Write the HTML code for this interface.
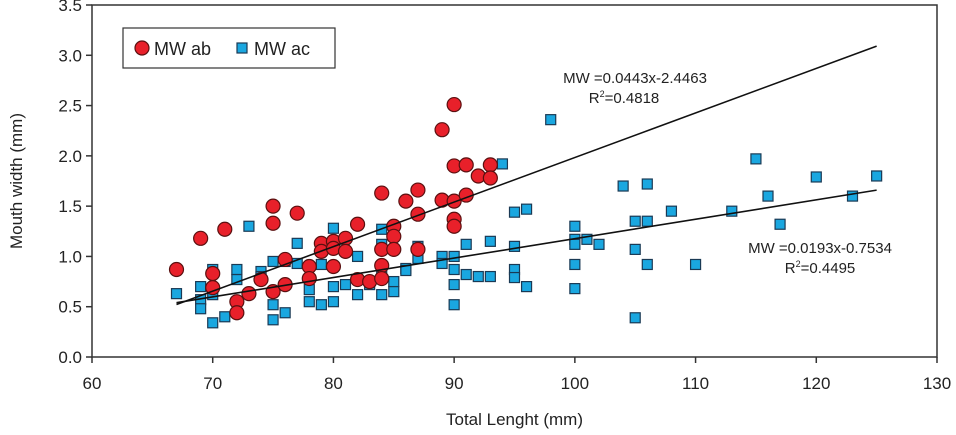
<!DOCTYPE html>
<html><head><meta charset="utf-8"><style>
body{margin:0;background:#fff;}
svg{display:block;font-family:"Liberation Sans",Arial,sans-serif;}
</style></head><body>
<svg id="chart" width="956" height="435"></svg>
<script>
const xTicks=[60,70,80,90,100,110,120,130];
const yTicks=[0.0,0.5,1.0,1.5,2.0,2.5,3.0,3.5];
const abX=[67,69,70,70,71,72,72,73,74,75,75,75,76,76,77,78,78,79,79,80,80,80,81,81,82,82,83,84,84,84,84,85,85,85,86,87,87,87,89,89,90,90,90,90,90,91,91,92,93,93];
const abY=[0.87,1.18,0.83,0.69,1.27,0.55,0.44,0.63,0.77,1.5,1.33,0.65,0.72,0.97,1.43,0.9,0.78,1.13,1.05,1.15,1.08,0.9,1.18,1.05,1.32,0.77,0.75,1.63,1.07,0.91,0.78,1.3,1.2,1.07,1.55,1.66,1.42,1.07,2.26,1.56,2.51,1.9,1.55,1.37,1.3,1.91,1.61,1.8,1.91,1.78];
const acX=[67,69,69,69,70,70,70,71,72,72,73,74,74,75,75,75,76,76,77,77,78,78,79,79,80,80,80,81,82,82,83,84,84,84,84,85,85,86,86,87,87,89,89,90,90,90,90,91,91,92,93,93,94,95,95,95,95,96,96,98,100,100,100,100,100,101,102,104,105,105,105,106,106,106,108,110,113,115,116,117,120,123,125];
const acY=[0.63,0.7,0.57,0.48,0.87,0.62,0.34,0.4,0.87,0.77,1.3,0.85,0.8,0.95,0.52,0.37,0.95,0.44,1.13,0.93,0.67,0.55,0.92,0.52,1.28,0.7,0.55,0.72,1.0,0.62,0.72,1.27,1.12,0.87,0.62,0.75,0.65,0.88,0.86,1.1,0.98,1.0,0.93,1.0,0.87,0.72,0.52,1.12,0.82,0.8,1.15,0.8,1.92,1.44,1.1,0.87,0.79,1.47,0.7,2.36,1.3,1.17,1.12,0.92,0.68,1.17,1.12,1.7,1.35,1.07,0.39,1.72,1.35,0.92,1.45,0.92,1.45,1.97,1.6,1.32,1.79,1.6,1.8];
const fitAb=[0.0443,-2.4463];
const fitAc=[0.0193,-0.7534];
const fitRange=[67,125];

const NS="http://www.w3.org/2000/svg";
const svg=document.getElementById('chart');
const L=92,R=937,T=5,B=357;
const sx=v=>L+(v-60)/(130-60)*(R-L);
const sy=v=>B-(v-0)/(3.5-0)*(B-T);
function mk(tag,a,txt){const e=document.createElementNS(NS,tag);for(const k in a)e.setAttribute(k,a[k]);if(txt!==undefined)e.textContent=txt;svg.appendChild(e);return e;}

let fr=mk('rect',{x:L,y:T,width:R-L,height:B-T,fill:'none',stroke:'#333','stroke-width':1.5});


xTicks.forEach(v=>{
 let t=mk('line',{x1:sx(v),x2:sx(v),y1:B,y2:B+6,stroke:'#333','stroke-width':1.5});
 
 
 let l=mk('text',{x:sx(v),y:B+32,'text-anchor':'middle','font-size':17,fill:'#222'},String(v));
 
 
});
yTicks.forEach(v=>{
 let t=mk('line',{x1:L-6,x2:L,y1:sy(v),y2:sy(v),stroke:'#333','stroke-width':1.5});
 
 
 let l=mk('text',{x:L-10,y:sy(v)+6,'text-anchor':'end','font-size':17,fill:'#222'},v.toFixed(1));
 
 
});
let xt=mk('text',{x:(L+R)/2,y:425,'text-anchor':'middle','font-size':17,fill:'#222'},'Total Lenght (mm)');


let yt=mk('text',{x:0,y:0,'text-anchor':'middle','font-size':17,fill:'#222',transform:`translate(22,${(T+B)/2}) rotate(-90)`},'Mouth width (mm)');



acX.forEach((x,i)=>{
 let s=mk('rect',{x:sx(x)-5,y:sy(acY[i])-5,width:10,height:10,fill:'#1aa7e0',stroke:'#1a3a55','stroke-width':1.2});
 
 
});
abX.forEach((x,i)=>{
 let c=mk('circle',{cx:sx(x),cy:sy(abY[i]),r:7,fill:'#e8202a',stroke:'#5a1010','stroke-width':1.2});
 
 
});
[[fitAb,'trendline-mw-ab'],[fitAc,'trendline-mw-ac']].forEach(([f,n])=>{
 let l=mk('line',{x1:sx(fitRange[0]),y1:sy(f[0]*fitRange[0]+f[1]),x2:sx(fitRange[1]),y2:sy(f[0]*fitRange[1]+f[1]),stroke:'#111','stroke-width':1.6});
 
 
});
let e1=mk('text',{x:635,y:83,'text-anchor':'middle','font-size':15,fill:'#222'},'MW =0.0443x-2.4463');


let r1=mk('text',{x:624,y:103,'text-anchor':'middle','font-size':15,fill:'#222'});
r1.innerHTML='R<tspan dy="-6" font-size="9">2</tspan><tspan dy="6">=0.4818</tspan>';


let e2=mk('text',{x:820,y:253,'text-anchor':'middle','font-size':15,fill:'#222'},'MW =0.0193x-0.7534');


let r2=mk('text',{x:820,y:273,'text-anchor':'middle','font-size':15,fill:'#222'});
r2.innerHTML='R<tspan dy="-6" font-size="9">2</tspan><tspan dy="6">=0.4495</tspan>';



let lg=mk('rect',{x:123,y:28,width:212,height:40,fill:'#fff',stroke:'#333','stroke-width':1.2});


let lc=mk('circle',{cx:142,cy:48,r:7,fill:'#e8202a',stroke:'#5a1010','stroke-width':1.2});


let lt1=mk('text',{x:154,y:55,'font-size':18,fill:'#222'},'MW ab');


let ls=mk('rect',{x:237,y:43,width:10,height:10,fill:'#1aa7e0',stroke:'#1a3a55','stroke-width':1.2});


let lt2=mk('text',{x:254,y:55,'font-size':18,fill:'#222'},'MW ac');


</script>
</body></html>
